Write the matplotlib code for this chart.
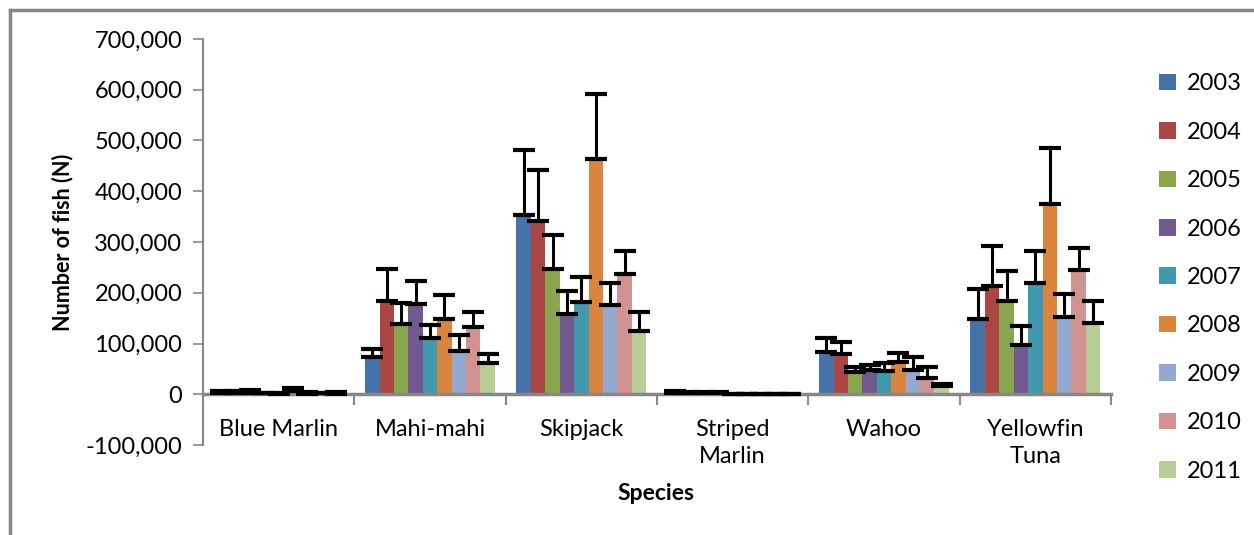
import numpy as np
import matplotlib
matplotlib.use("Agg")
import matplotlib.pyplot as plt
from matplotlib.lines import Line2D
from matplotlib.patches import Patch
from matplotlib.ticker import FuncFormatter

plt.rcParams["font.family"] = ["Lato", "DejaVu Sans"]

species = ["Blue Marlin", "Mahi-mahi", "Skipjack", "Striped\nMarlin", "Wahoo", "Yellowfin\nTuna"]
years = ["2003", "2004", "2005", "2006", "2007", "2008", "2009", "2010", "2011"]
colors = ["#4572A7", "#AA4643", "#89A54E", "#71588F", "#4198AF",
          "#DB843D", "#93A9CF", "#D19392", "#B9CD96"]

# mean number of fish per species (rows) and year (columns)
blue_marlin = [2000, 2000, 3000, 1500, 500, 6000, 500, 1500, 500]
mahi_mahi = [73000, 183000, 139000, 177000, 110000, 149000, 85000, 133000, 62000]
skipjack = [354000, 341000, 246000, 158000, 181000, 463000, 175000, 236000, 124000]
striped_marlin = [2000, 1500, 1500, 1500, 1000, 1000, 1000, 0, 1000]
wahoo = [83000, 80000, 43000, 47000, 46000, 64000, 47000, 33000, 16000]
yellowfin = [148000, 213000, 184000, 97000, 220000, 374000, 152000, 245000, 140000]

# upper error (plus direction only)
blue_marlin_err = [5000, 5000, 6000, 0, 2500, 6000, 3000, 0, 3000]
mahi_mahi_err = [17000, 63000, 41000, 47000, 26000, 47000, 31000, 30000, 18000]
skipjack_err = [127000, 101000, 68000, 45000, 50000, 129000, 45000, 46000, 39000]
striped_marlin_err = [5000, 2000, 2000, 2000, 0, 0, 0, 0, 0]
wahoo_err = [27000, 22000, 11000, 11000, 16000, 18000, 26000, 21000, 5000]
yellowfin_err = [60000, 79000, 59000, 37000, 63000, 111000, 45000, 43000, 43000]

means = np.array([blue_marlin, mahi_mahi, skipjack, striped_marlin, wahoo, yellowfin])
errs = np.array([blue_marlin_err, mahi_mahi_err, skipjack_err, striped_marlin_err,
                 wahoo_err, yellowfin_err])

W, H = 1254, 535
fig = plt.figure(figsize=(W / 100, H / 100), dpi=100)
ax = fig.add_axes([203 / W, (H - 445) / H, (1111 - 203) / W, (445 - 39) / H])

centers = np.arange(len(species)) + 0.5
bw = 1 / 10.5
for j, (yr, c) in enumerate(zip(years, colors)):
    x = centers + (j - 4) * bw
    ax.bar(x, means[:, j], width=bw, color=c, zorder=2)
    ax.errorbar(x, means[:, j], yerr=[np.zeros(len(species)), errs[:, j]],
                fmt="none", ecolor="black", elinewidth=2.2, capsize=8, capthick=3,
                zorder=3)

ax.set_xlim(0, len(species))
ax.set_ylim(-100000, 700000)
ax.set_yticks(np.arange(-100000, 700001, 100000))
ax.yaxis.set_major_formatter(FuncFormatter(lambda v, p: f"{int(v):,}"))

gray = "#878787"
for s in ["top", "right"]:
    ax.spines[s].set_visible(False)
ax.spines["left"].set_color(gray)
ax.spines["left"].set_linewidth(1.5)
ax.spines["bottom"].set_position(("data", 0))
ax.spines["bottom"].set_color(gray)
ax.spines["bottom"].set_linewidth(2.5)

ax.tick_params(axis="y", colors=gray, length=7, width=1.2, labelsize=17,
               labelcolor="black", pad=8)
ax.set_xticks(np.arange(len(species) + 1))
ax.set_xticklabels([])
ax.tick_params(axis="x", which="major", colors=gray, length=8, width=1.5, direction="out")
ax.set_xticks(centers, minor=True)
ax.set_xticklabels(species, minor=True, fontsize=17, linespacing=1.35, va="top")
ax.tick_params(axis="x", which="minor", length=0, pad=18, labelcolor="black")

ax.set_ylabel("Number of fish (N)", fontsize=15.5, fontweight="bold", labelpad=9)
fig.text(656 / W, 1 - 493 / H, "Species", fontsize=16.5, fontweight="bold",
         ha="center", va="center")

handles = [Patch(facecolor=c, edgecolor="none") for c in colors]
fig.legend(handles, years, loc="upper left", bbox_to_anchor=(1150 / W, 1 - 64 / H),
           frameon=False, fontsize=17, handlelength=0.7, handleheight=0.7,
           handletextpad=0.45, labelspacing=1.16, borderaxespad=0)

# outer chart frame (top and left edges visible)
fig.add_artist(Line2D([10 / W, 10 / W], [0, 1 - 10 / H], color=gray, lw=2.5))
fig.add_artist(Line2D([10 / W, 1], [1 - 10 / H, 1 - 10 / H], color=gray, lw=2.5))

fig.savefig("out.png", dpi=100)
